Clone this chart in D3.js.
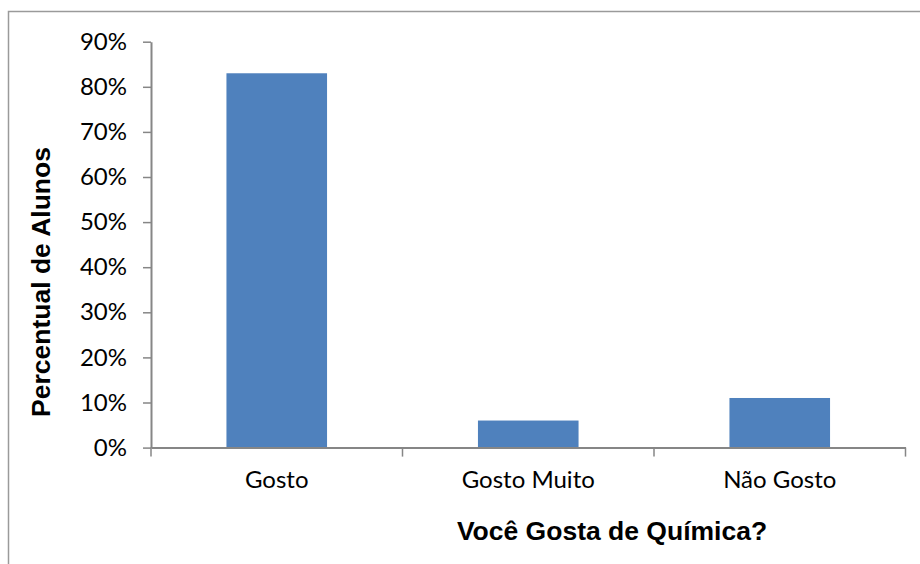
<!DOCTYPE html>
<html>
<head>
<meta charset="utf-8">
<script src="https://cdn.jsdelivr.net/npm/d3@7"></script>
<style>
  body { margin: 0; background: #fff; }
</style>
</head>
<body>
<div id="chart"></div>
<script>
// data
var categories = ["Gosto", "Gosto Muito", "Não Gosto"];
var values = [0.83, 0.06, 0.11];
var yTicks = [0, 0.1, 0.2, 0.3, 0.4, 0.5, 0.6, 0.7, 0.8, 0.9];

var W = 920, H = 564;
var plot = {left: 151, right: 905.5, top: 41.7, bottom: 447.6};

var svg = d3.select("#chart")
  .append("svg")
    .attr("width", W)
    .attr("height", H);

// outer chart frame (only top and left visible)
svg.append("rect")
  .attr("x", 8.5).attr("y", 11.5)
  .attr("width", 1000).attr("height", 700)
  .attr("fill", "none")
  .attr("stroke", "#9a9a9a")
  .attr("stroke-width", 1.5);

var x = d3.scaleBand()
  .domain(categories)
  .range([plot.left, plot.right])
  .padding(0);

var y = d3.scaleLinear()
  .domain([0, 0.9])
  .range([plot.bottom, plot.top]);

// bars
var barW = x.bandwidth() * 0.4;
svg.append("g")
  .selectAll("rect")
  .data(values)
  .enter()
  .append("rect")
    .attr("x", function(d, i) { return x(categories[i]) + (x.bandwidth() - barW) / 2; })
    .attr("y", function(d) { return y(d); })
    .attr("width", barW)
    .attr("height", function(d) { return y(0) - y(d); })
    .attr("fill", "#4F81BD");

// Y axis
var yAxis = svg.append("g")
  .attr("transform", "translate(" + plot.left + ",0)")
  .call(d3.axisLeft(y)
    .tickValues(yTicks)
    .tickFormat(d3.format(".0%"))
    .tickSize(8)
    .tickPadding(16)
    .tickSizeOuter(0));
yAxis.select(".domain").attr("stroke", "#868686").attr("stroke-width", 2);
yAxis.selectAll(".tick line").attr("stroke", "#868686").attr("stroke-width", 1.5);
yAxis.selectAll("text")
  .attr("fill", "#000")
  .style("font-family", "Lato, 'Open Sans', sans-serif")
  .style("font-size", "24px");

// X axis (labels centred, ticks on category boundaries)
var xAxis = svg.append("g")
  .attr("transform", "translate(0," + plot.bottom + ")")
  .call(d3.axisBottom(x).tickSize(0).tickPadding(23).tickSizeOuter(0));
xAxis.select(".domain").attr("stroke", "#868686").attr("stroke-width", 2);
xAxis.selectAll("text")
  .attr("fill", "#000")
  .style("font-family", "Lato, 'Open Sans', sans-serif")
  .style("font-size", "24px");

var bounds = categories.map(function(c) { return x(c); }).concat([x.range()[1]]);
xAxis.selectAll(".bound")
  .data(bounds)
  .enter()
  .append("line")
    .attr("class", "bound")
    .attr("x1", function(d) { return d; })
    .attr("x2", function(d) { return d; })
    .attr("y1", 0)
    .attr("y2", 9)
    .attr("stroke", "#868686")
    .attr("stroke-width", 1.5);

// axis titles
svg.append("text")
  .attr("x", 612)
  .attr("y", 540)
  .attr("text-anchor", "middle")
  .style("font-family", "Arial, 'Liberation Sans', sans-serif")
  .style("font-weight", "bold")
  .style("font-size", "26.5px")
  .text("Você Gosta de Química?");

svg.append("text")
  .attr("transform", "translate(49.5,282) rotate(-90)")
  .attr("text-anchor", "middle")
  .style("font-family", "Arial, 'Liberation Sans', sans-serif")
  .style("font-weight", "bold")
  .style("font-size", "26.5px")
  .text("Percentual de Alunos");
</script>
</body>
</html>
